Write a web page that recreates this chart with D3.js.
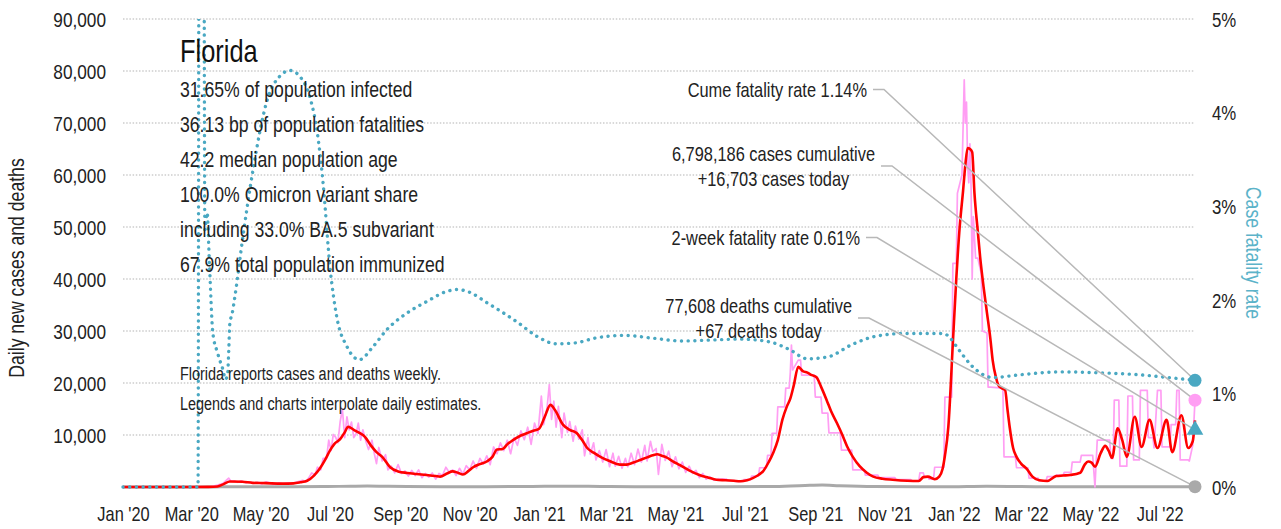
<!DOCTYPE html>
<html><head><meta charset="utf-8">
<script src="https://cdn.jsdelivr.net/npm/d3@7"></script>
<style>
body{margin:0;background:#fff;}
svg text{font-family:"Liberation Sans",Arial,sans-serif;fill:#222;}
</style></head><body>
<svg id="chart" width="1281" height="529"></svg>
<script>
// ---------- DATA ----------
const startDate = new Date(2020, 0, 1);
const endDate = new Date(2022, 7, 1);

// [days since 2020-01-01, 7-day average daily new cases]
const casesAvg = [[0,0],[60,0],[75,20],[83,100],[88,500],[94,1050],[105,1000],[114,800],[125,750],[140,650],[150,700],[156,900],[162,1200],[168,2200],[173,3500],[178,5300],[182,7000],[186,8300],[191,9200],[195,10500],[198,11600],[203,11000],[208,10400],[213,9600],[218,8000],[223,6700],[228,5800],[235,3800],[242,3000],[250,2700],[258,2500],[267,2300],[275,2100],[279,2000],[285,2600],[290,3000],[295,2700],[299,2400],[304,3100],[308,3800],[314,4400],[320,4900],[325,5800],[329,7200],[334,7300],[338,8200],[343,9000],[350,9900],[357,10500],[361,10800],[366,11200],[371,13500],[376,15800],[380,14800],[387,12000],[393,11000],[399,10400],[404,9000],[408,7600],[414,6600],[420,5800],[428,5000],[437,4300],[443,4300],[449,4700],[455,5200],[461,5700],[466,6100],[470,6300],[474,6000],[478,5700],[484,4900],[490,4200],[498,3200],[507,2300],[515,1800],[522,1400],[530,1300],[537,1200],[543,1100],[549,1300],[554,1700],[559,2300],[563,3000],[568,4800],[572,6600],[576,9000],[580,12900],[584,15500],[587,17000],[590,19500],[594,23100],[598,22300],[602,22000],[606,21500],[610,21100],[614,19300],[619,16700],[623,14500],[628,12300],[633,9900],[637,7800],[642,5800],[648,4000],[654,2800],[660,2000],[668,1600],[677,1400],[690,1200],[700,1150],[704,1900],[708,2000],[714,1500],[718,2000],[721,3500],[723,6000],[726,11500],[730,27700],[733,40000],[736,50000],[739,57000],[741,62000],[743,65200],[745,65000],[747,64400],[749,56500],[752,49000],[754,44200],[757,38500],[760,33500],[763,28500],[765,24400],[768,21000],[770,19600],[773,19000],[776,18600],[778,15000],[780,11500],[783,7500],[786,5800],[790,4500],[795,3500],[800,2000],[806,1300],[813,1150],[821,2100],[827,2200],[833,2300],[842,2750],[846,4300],[849,4900],[852,4700],[855,3900],[860,6500],[864,7900],[867,7000],[870,5600],[875,11300],[879,9000],[883,5800],[890,13500],[896,7700],[903,12900],[910,7500],[918,12900],[923,6700],[931,13800],[937,7500],[941,8800],[943,12800]];

// [days, reported daily new cases (interpolated daily estimates)]
const casesRaw = [[0,0],[60,0],[70,10],[78,100],[84,400],[88,700],[91,1300],[93,1700],[95,1100],[98,1200],[101,900],[104,1200],[108,800],[111,1000],[115,700],[118,900],[122,600],[126,1000],[130,700],[133,500],[137,800],[141,600],[145,800],[148,600],[152,900],[155,1100],[158,1300],[161,1000],[164,2000],[166,2700],[169,2300],[171,3800],[174,3300],[176,5500],[179,5500],[181,9000],[183,7000],[185,10100],[187,9600],[189,8500],[191,12500],[193,15000],[195,9500],[197,13500],[199,11000],[201,12500],[203,9500],[205,10200],[207,12300],[209,9000],[211,11000],[214,8500],[216,7200],[219,9000],[221,6500],[223,4500],[225,7600],[228,5000],[231,6200],[233,3300],[236,4000],[239,2700],[242,4300],[245,2600],[248,3100],[251,2100],[254,3200],[257,2200],[260,3300],[263,1800],[266,2600],[269,1900],[272,2700],[275,1500],[278,2600],[281,2200],[284,3800],[287,2800],[290,3300],[293,2200],[296,3600],[299,2500],[302,4100],[305,3300],[308,5000],[311,3600],[314,5500],[317,4400],[320,6000],[323,4300],[326,7700],[329,6400],[332,8500],[335,7000],[338,9000],[341,6400],[344,9500],[347,8000],[350,10800],[353,9100],[356,11500],[359,8200],[362,12300],[365,10300],[368,17500],[370,12000],[373,15200],[375,19700],[377,13000],[379,16500],[381,11500],[383,15500],[386,9500],[388,14200],[391,10500],[393,12600],[396,8800],[398,11700],[401,9200],[404,11000],[406,6000],[409,9500],[411,6300],[414,8500],[416,5200],[419,7000],[422,4800],[425,7200],[428,3900],[431,6500],[433,4000],[436,5900],[439,3600],[442,5500],[444,3900],[447,6500],[450,4300],[453,7300],[456,4800],[459,8000],[461,5000],[464,8800],[466,6800],[469,7400],[471,2400],[474,8200],[477,5100],[480,6900],[483,3900],[486,5800],[489,3500],[492,4800],[495,2800],[498,4000],[501,2600],[504,3200],[507,1800],[510,2600],[513,1500],[516,2000],[520,1300],[524,1600],
[525,1500],[531,1500],[532,1250],[538,1250],[539,1100],[545,1100],[546,1400],[552,1400],[553,2100],[559,2100],[560,3700],[566,3700],[567,6100],[570,6100],[571,10300],[575,10300],[576,15400],[582,15400],[583,19000],[586,19000],[587,22000],[588,27300],[589,22500],[594,24400],[596,24400],[597,21500],[608,21500],[609,17300],[614,17300],[615,14200],[620,14200],[621,10400],[631,10400],[632,7100],[641,7100],[642,3300],[652,3300],[653,2300],[664,2300],[665,1800],[679,1800],[680,1400],[693,1400],[694,1200],[700,1200],[701,2700],[704,2700],[705,1900],[708,1900],[709,1500],[713,1500],[714,3800],[722,3800],[723,17300],[729,17300],[730,43000],[733,43000],[734,56500],[738,60000],[740,78300],[741,70000],[742,74000],[743,62000],[744,58500],[745,66000],[746,58000],[747,40000],[748,52000],[750,44000],[752,44000],[755,41000],[756,30000],[760,29600],[761,19200],[763,19200],[774,19000],[775,5800],[785,5800],[786,3700],[796,3700],[797,1700],[805,1700],[806,1200],[812,1200],[813,2000],[820,2000],[821,2300],[827,2300],[828,2800],[834,2800],[835,4800],[842,4800],[843,6100],[853,6100],[855,0],[857,9000],[868,9000],[869,5500],[871,5500],[872,16700],[876,16700],[877,4000],[883,4000],[884,17500],[888,17500],[889,5200],[894,5200],[895,18600],[901,18600],[902,9500],[906,9500],[907,7500],[910,18600],[913,18600],[914,7700],[921,7700],[922,12000],[926,12000],[927,18600],[929,18600],[930,5200],[937,5200],[938,5000],[941,8000],[943,16703]];

// [days, daily deaths]
const deaths = [[0,0],[65,0],[80,10],[95,50],[120,45],[150,35],[180,90],[200,150],[215,185],[230,150],[250,100],[280,60],[320,70],[360,120],[390,160],[420,110],[450,70],[490,60],[530,40],[570,100],[600,300],[615,370],[630,250],[660,80],[700,30],[730,60],[760,150],[790,80],[830,30],[880,25],[943,67]];

// [days, case fatality rate %]
const cfr = [[0,0],[65,0],[66,0],[67,7],[71,7],[72,2.75],[74,2.93],[76,2.4],[79,1.65],[83,1.44],[85,1.36],[88,1.25],[90,1.15],[92,1.2],[93,1.45],[94,1.75],[96,1.85],[98,2.0],[106,2.72],[114,3.36],[127,4.14],[138,4.39],[147,4.45],[156,4.38],[165,4.14],[171,3.78],[176,3.25],[182,2.36],[188,1.82],[197,1.5],[208,1.36],[220,1.5],[232,1.68],[250,1.86],[267,1.98],[285,2.09],[294,2.11],[305,2.08],[320,1.97],[332,1.88],[347,1.76],[364,1.61],[381,1.53],[398,1.54],[415,1.59],[441,1.62],[466,1.59],[492,1.56],[517,1.57],[543,1.58],[569,1.55],[586,1.47],[602,1.37],[620,1.39],[641,1.52],[662,1.61],[688,1.64],[722,1.64],[727,1.6],[735,1.47],[747,1.29],[765,1.17],[790,1.2],[824,1.23],[859,1.22],[893,1.2],[919,1.17],[943,1.14]];

const leftTicks = [10000,20000,30000,40000,50000,60000,70000,80000,90000];
const rightTicks = [0,1,2,3,4,5];
const xTickDates = ["2020-01-01","2020-03-01","2020-05-01","2020-07-01","2020-09-01","2020-11-01","2021-01-01","2021-03-01","2021-05-01","2021-07-01","2021-09-01","2021-11-01","2022-01-01","2022-03-01","2022-05-01","2022-07-01"];
const xTickLabels = ["Jan '20","Mar '20","May '20","Jul '20","Sep '20","Nov '20","Jan '21","Mar '21","May '21","Jul '21","Sep '21","Nov '21","Jan '22","Mar '22","May '22","Jul '22"];

const stateName = "Florida";
const statsLines = ["31.65% of population infected","36.13 bp of population fatalities","42.2 median population age","100.0% Omicron variant share","including 33.0% BA.5 subvariant","67.9% total population immunized"];
const noteLines = ["Florida reports cases and deaths weekly.","Legends and charts interpolate daily estimates."];

const cumeCFR = 1.14, twoWeekCFR = 0.61, casesToday = 16703, deathsToday = 67;
const annotations = [
  {lines:["Cume fatality rate 1.14%"], right:867, base:97, target:"cume"},
  {lines:["6,798,186 cases cumulative","+16,703 cases today"], right:875, base:161, target:"cases"},
  {lines:["2-week fatality rate 0.61%"], right:860, base:245, target:"twoweek"},
  {lines:["77,608 deaths cumulative","+67 deaths today"], right:852, base:313, target:"deaths"}
];

// ---------- CHART ----------
const NARROW = 0.82; // condensed look
const svg = d3.select("#chart");
const m = {left:123, right:1195, top:19, bottom:487};
const x = d3.scaleTime().domain([startDate, endDate]).range([m.left, m.right]);
const yL = d3.scaleLinear().domain([0, 90000]).range([m.bottom, m.top]);
const yR = d3.scaleLinear().domain([0, 5]).range([m.bottom, m.top]);
const day = d => d3.timeDay.offset(startDate, d);
const parse = d3.timeParse("%Y-%m-%d");

const BLUE = "#4aa8c2", BLUE_TXT = "#5cb3c9", PINK = "#ff9ef3", RED = "#ff0000", GRAY = "#a9a9a9";

function txt(parent, px, py, str, size, anchor, pre) {
  return parent.append("text")
    .attr("transform", `translate(${px},${py}) ${pre || ""} scale(${NARROW},1)`)
    .attr("text-anchor", anchor || "start").attr("font-size", size).text(str);
}

svg.append("defs").append("clipPath").attr("id","clip")
  .append("rect").attr("x", m.left - 2).attr("y", m.top).attr("width", m.right - m.left + 4).attr("height", m.bottom - m.top + 6);

// grid
svg.append("g").selectAll("line").data(leftTicks).join("line")
  .attr("x1", m.left).attr("x2", m.right)
  .attr("y1", d => yL(d)).attr("y2", d => yL(d))
  .attr("stroke", "#b3b3b3").attr("stroke-width", 1.1).attr("stroke-dasharray", "1.5,1.7");

// left axis
const axL = svg.append("g").attr("transform", `translate(${m.left - 17},0)`)
  .call(d3.axisLeft(yL).tickValues(leftTicks).tickFormat(d3.format(",")).tickSize(0).tickPadding(0));
axL.select(".domain").remove();
axL.selectAll("text").attr("x", 0).attr("font-size", 21).attr("fill", "#222").attr("dy", "0.36em")
  .attr("transform", `scale(${NARROW},1)`).style("font-family", '"Liberation Sans",Arial,sans-serif');

// right axis
const axR = svg.append("g").attr("transform", `translate(${m.right + 17},0)`)
  .call(d3.axisRight(yR).tickValues(rightTicks).tickFormat(d => d + "%").tickSize(0).tickPadding(0));
axR.select(".domain").remove();
axR.selectAll("text").attr("x", 0).attr("font-size", 20.5).attr("fill", BLUE_TXT).attr("dy", "0.36em")
  .attr("transform", `scale(${NARROW},1)`).style("font-family", '"Liberation Sans",Arial,sans-serif');

// x axis
const axX = svg.append("g").attr("transform", `translate(0,${m.bottom + 20})`)
  .call(d3.axisBottom(x).tickValues(xTickDates.map(parse)).tickFormat((d, i) => xTickLabels[i]).tickSize(0).tickPadding(0));
axX.select(".domain").remove();
axX.selectAll("text").attr("y", 0).attr("font-size", 20).attr("fill", "#222").attr("dy", "0.71em")
  .attr("transform", `scale(${NARROW},1)`).style("font-family", '"Liberation Sans",Arial,sans-serif');

// axis titles
txt(svg, 24, 268, "Daily new cases and deaths", 21.5, "middle", "rotate(-90)");
txt(svg, 1246, 253, "Case fatality rate", 21.5, "middle", "rotate(90)").style("fill", BLUE_TXT);

// data lines
const plot = svg.append("g").attr("clip-path", "url(#clip)");
const lin = d3.line().x(d => x(day(d[0]))).y(d => yL(d[1]));
plot.append("path").datum(deaths).attr("d", d3.line().x(d => x(day(d[0]))).y(d => yL(d[1])).curve(d3.curveMonotoneX))
  .attr("fill", "none").attr("stroke", GRAY).attr("stroke-width", 3);
plot.append("path").datum(casesRaw).attr("d", lin)
  .attr("fill", "none").attr("stroke", PINK).attr("stroke-width", 1.7).attr("stroke-linejoin", "round");
plot.append("path").datum(casesAvg).attr("d", d3.line().x(d => x(day(d[0]))).y(d => yL(d[1])).curve(d3.curveMonotoneX))
  .attr("fill", "none").attr("stroke", RED).attr("stroke-width", 2.6).attr("stroke-linejoin", "round");
plot.append("path").datum(cfr).attr("d", d3.line().x(d => x(day(d[0]))).y(d => yR(d[1])).curve(d3.curveMonotoneX))
  .attr("fill", "none").attr("stroke", BLUE).attr("stroke-width", 3.4)
  .attr("stroke-linecap", "round").attr("stroke-dasharray", "0.1,6.6");

// text block
txt(svg, 180, 62, stateName, 31).style("fill", "#111");
const sg = svg.append("g");
statsLines.forEach((s, i) => txt(sg, 180, 97 + i * 35, s, 21.5));
const ng = svg.append("g");
noteLines.forEach((s, i) => txt(ng, 180, 380 + i * 29.5, s, 17.6));

// markers' positions
const targets = {
  cume: [m.right, yR(cumeCFR)],
  cases: [m.right, yL(casesToday)],
  twoweek: [m.right, yR(twoWeekCFR)],
  deaths: [m.right, yL(deathsToday)]
};

// annotations
const annG = svg.append("g");
annotations.forEach(a => {
  const t1 = txt(annG, a.right, a.base, a.lines[0], 20, "end");
  const w = t1.node().getBBox().width * NARROW;
  const cx = a.right - w / 2;
  let mid = a.base - 7.5;
  if (a.lines.length > 1) {
    txt(annG, cx, a.base + 24.5, a.lines[1], 20, "middle");
    mid = a.base + 5;
  }
  const tg = targets[a.target];
  annG.append("polyline")
    .attr("points", `${a.right + 6},${mid} ${a.right + 17},${mid} ${tg[0]},${tg[1]}`)
    .attr("fill", "none").attr("stroke", "#b8b8b8").attr("stroke-width", 1.5);
});

svg.append("circle").attr("cx", targets.cume[0]).attr("cy", targets.cume[1]).attr("r", 6.5).attr("fill", BLUE);
svg.append("circle").attr("cx", targets.cases[0]).attr("cy", targets.cases[1]).attr("r", 6.5).attr("fill", PINK);
svg.append("path").attr("d", d3.symbol(d3.symbolTriangle, 120)())
  .attr("transform", `translate(${targets.twoweek[0]},${targets.twoweek[1]})`).attr("fill", BLUE);
svg.append("circle").attr("cx", targets.deaths[0]).attr("cy", targets.deaths[1]).attr("r", 6.5).attr("fill", GRAY);
</script>
</body></html>
